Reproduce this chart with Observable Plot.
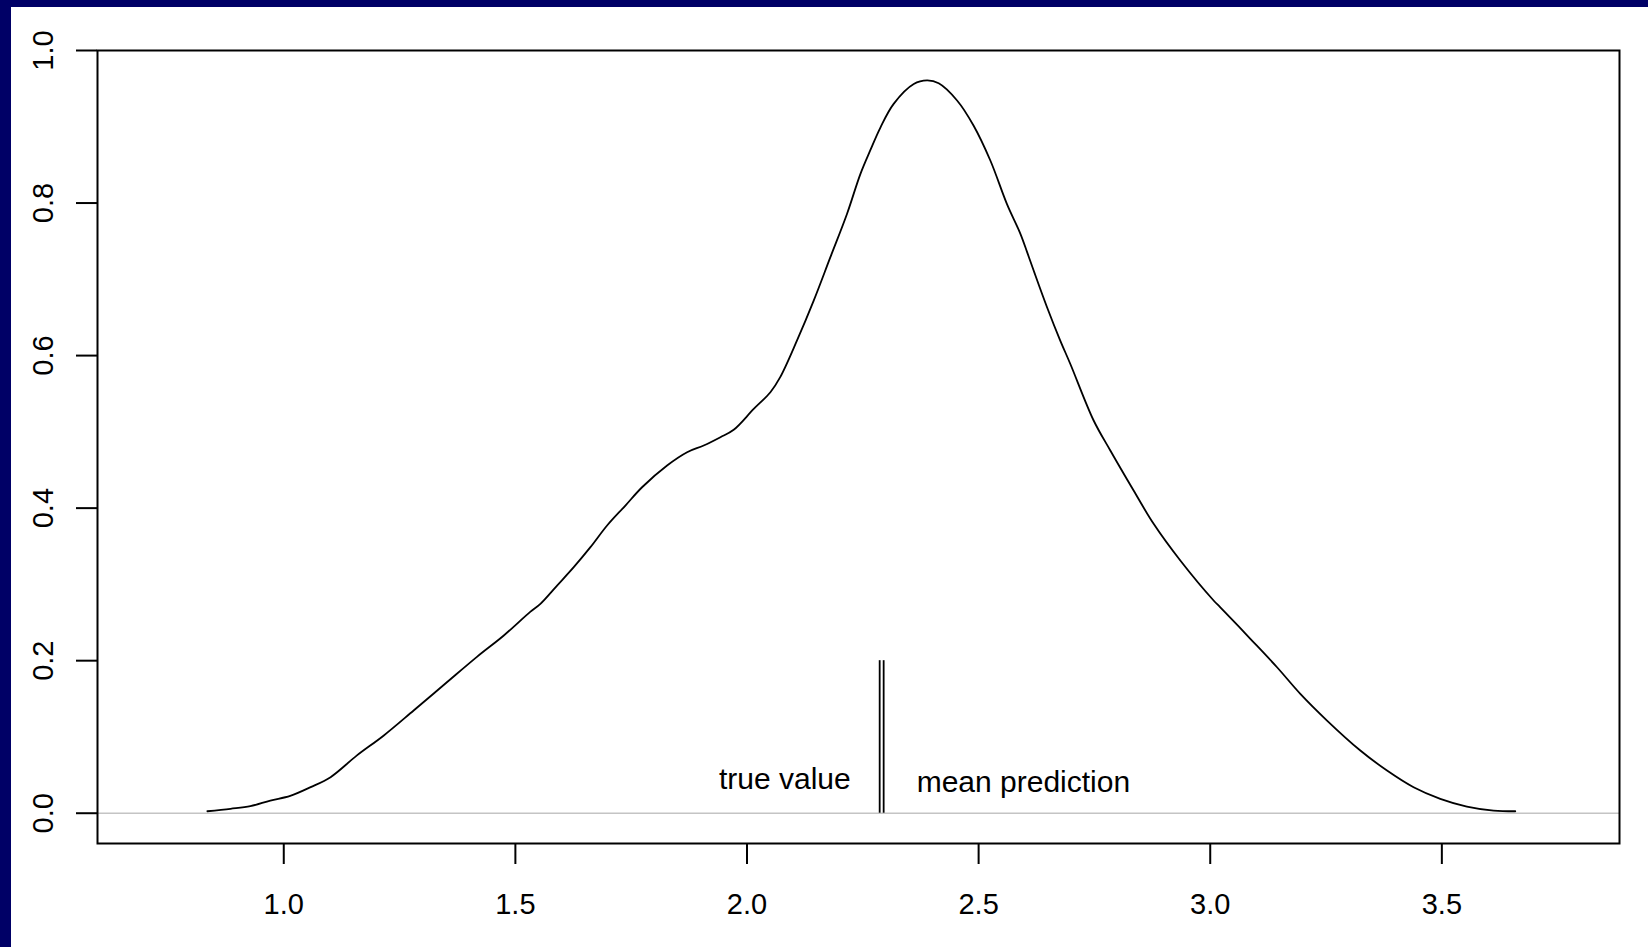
<!DOCTYPE html>
<html>
<head>
<meta charset="utf-8">
<script src="https://cdn.jsdelivr.net/npm/d3@7"></script>
<script src="https://cdn.jsdelivr.net/npm/@observablehq/plot@0.6"></script>
<style>
  html, body { margin: 0; padding: 0; background: #ffffff; }
  #wrap { position: relative; width: 1648px; height: 947px; overflow: hidden; }
  #frameTop { position: absolute; left: 0; top: 0; width: 1648px; height: 7px; background: #000066; }
  #frameLeft { position: absolute; left: 0; top: 0; width: 11px; height: 947px; background: #000066; }
  svg { display: block; }
</style>
</head>
<body>
<div id="wrap">
  <div id="chart"></div>
  <div id="frameTop"></div>
  <div id="frameLeft"></div>
</div>
<script>
// Density curve
const densityX = [0.835, 0.885, 0.928, 0.971, 1.014, 1.058, 1.101, 1.158, 1.216, 1.281,
  1.349, 1.417, 1.475, 1.532, 1.554, 1.590, 1.626, 1.662, 1.698, 1.7375,
  1.7735, 1.8275, 1.8707, 1.9065, 1.9426, 1.9713, 2.0145, 2.0505, 2.0717, 2.108,
  2.144, 2.180, 2.216, 2.2447, 2.266, 2.288, 2.3166, 2.360, 2.3887, 2.4138,
  2.4535, 2.489, 2.5253, 2.561, 2.590, 2.6045, 2.6188, 2.6477, 2.676, 2.698,
  2.7483, 2.7843, 2.8346, 2.8778, 2.9354, 3.0073, 3.0218, 3.0866, 3.1442, 3.1945,
  3.2521, 3.324, 3.3816, 3.439, 3.4966, 3.554, 3.6117, 3.6585];
const densityY = [0.0026, 0.0058, 0.0092, 0.0166, 0.0228, 0.0342, 0.0473, 0.0758, 0.102, 0.135,
  0.170, 0.205, 0.233, 0.264, 0.2745, 0.2985, 0.3226, 0.3488, 0.3772, 0.4034,
  0.4274, 0.4559, 0.4733, 0.4821, 0.493, 0.5027, 0.530, 0.552, 0.5717, 0.6198,
  0.672, 0.729, 0.786, 0.838, 0.869, 0.899, 0.930, 0.956, 0.9607, 0.957,
  0.9345, 0.9017, 0.8558, 0.799, 0.760, 0.736, 0.7115, 0.6634, 0.620, 0.589,
  0.5149, 0.4756, 0.4231, 0.3794, 0.3313, 0.2789, 0.270, 0.2287, 0.1914, 0.1565,
  0.1215, 0.0822, 0.056, 0.0341, 0.0189, 0.0088, 0.0035, 0.0026];

// Vertical markers: true value and mean prediction
const markerX = [2.2864, 2.295];
const markerTop = 0.2;
const labelText = ["true value", "mean prediction"];
const labelY = [0.032, 0.0275];

// Axis ticks
const xTicks = [1.0, 1.5, 2.0, 2.5, 3.0, 3.5];
const yTicks = [0.0, 0.2, 0.4, 0.6, 0.8, 1.0];
const xDomain = [0.5979, 3.8835];
const yDomain = [-0.0397, 1.0];

const curve = densityX.map((x, i) => ({x, y: densityY[i]}));
const markers = markerX.map(x => ({x}));
const labels = labelText.map((t, i) => ({x: markerX[i], y: labelY[i], t}));

const chart = Plot.plot({
  width: 1648,
  height: 947,
  marginLeft: 97,
  marginRight: 29,
  marginTop: 50,
  marginBottom: 104,
  style: {background: "#ffffff", color: "#000000", fontFamily: "'Liberation Sans', Arial, sans-serif"},
  x: {domain: xDomain},
  y: {domain: yDomain},
  marks: [
    Plot.ruleY([0], {stroke: "#c4c4c4", strokeWidth: 1.6}),
    Plot.line(curve, {x: "x", y: "y", stroke: "#000000", strokeWidth: 1.8, curve: "catmull-rom"}),
    Plot.ruleX(markers, {x: "x", y1: 0, y2: markerTop, stroke: "#000000", strokeWidth: 1.8}),
    Plot.text([labels[0]], {x: "x", y: "y", text: "t", textAnchor: "end", lineAnchor: "bottom", dx: -29, fontSize: 30, fill: "#000000"}),
    Plot.text([labels[1]], {x: "x", y: "y", text: "t", textAnchor: "start", lineAnchor: "bottom", dx: 33, fontSize: 30, fill: "#000000"}),
    Plot.frame({stroke: "#000000", strokeWidth: 2}),
    Plot.axisX({ticks: xTicks, tickSize: 21, tickPadding: 29, tickFormat: d => d.toFixed(1), fontSize: 29, strokeWidth: 2, label: null}),
    Plot.axisY({ticks: yTicks, tickSize: 21, tickPadding: 24, tickRotate: -90, tickFormat: d => d.toFixed(1), fontSize: 29, strokeWidth: 2, label: null})
  ]
});
document.getElementById("chart").appendChild(chart);
</script>
</body>
</html>
